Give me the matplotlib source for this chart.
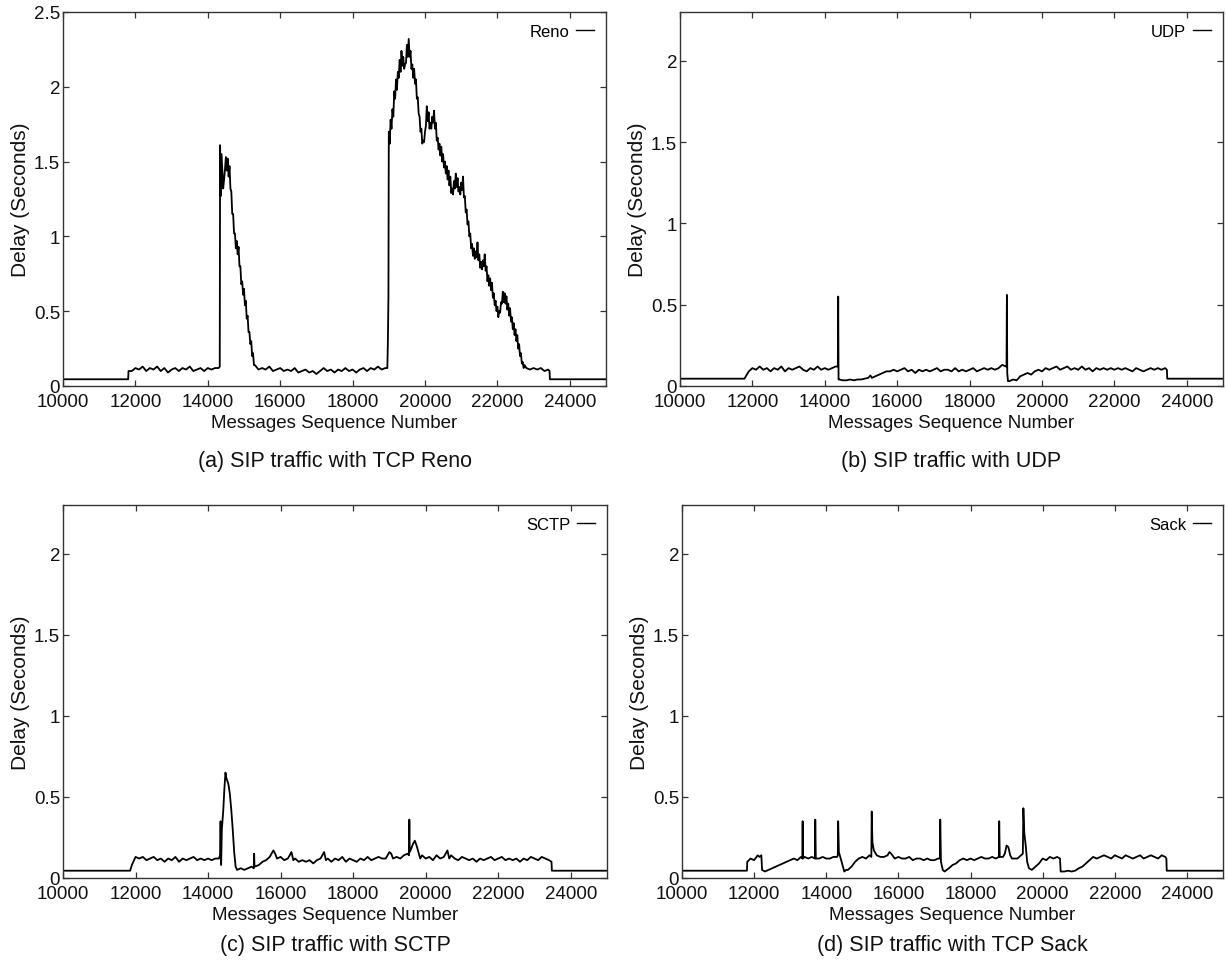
import matplotlib
matplotlib.use("Agg")
import matplotlib.pyplot as plt

plt.rcParams['font.family'] = ['Liberation Sans', 'DejaVu Sans']

# ---------------- data ----------------
xticks = [10000, 12000, 14000, 16000, 18000, 20000, 22000, 24000]
xtick_labels = ["10000", "12000", "14000", "16000", "18000", "20000", "22000", "24000"]
yticks_a = [0, 0.5, 1, 1.5, 2, 2.5]
yticks_other = [0, 0.5, 1, 1.5, 2]
ytick_labels_a = ["0", "0.5", "1", "1.5", "2", "2.5"]
ytick_labels_other = ["0", "0.5", "1", "1.5", "2"]

series_names = ["Reno", "UDP", "SCTP", "Sack"]
captions = ["(a) SIP traffic with TCP Reno", "(b) SIP traffic with UDP",
            "(c) SIP traffic with SCTP", "(d) SIP traffic with TCP Sack"]

reno_points = [
    (10000, 0.045), (11800, 0.045), (11810, 0.10),
    (11900, 0.10), (12000, 0.12), (12100, 0.11), (12200, 0.13), (12300, 0.10), (12400, 0.12),
    (12500, 0.11), (12600, 0.13), (12700, 0.10), (12800, 0.12), (12900, 0.09), (13000, 0.11),
    (13100, 0.12), (13200, 0.10), (13300, 0.12), (13400, 0.11), (13500, 0.13), (13600, 0.10),
    (13700, 0.11), (13800, 0.12), (13900, 0.10), (14000, 0.12), (14100, 0.11), (14200, 0.12),
    (14300, 0.12), (14330, 0.13), (14340, 1.61), (14360, 1.27), (14380, 1.55), (14400, 1.45),
    (14450, 1.38), (14500, 1.53), (14550, 1.52), (14600, 1.47), (14650, 1.30), (14700, 1.15),
    (14750, 1.02), (14800, 0.97), (14850, 0.93), (14900, 0.80), (14950, 0.70), (15000, 0.65),
    (15050, 0.57), (15100, 0.47), (15150, 0.36), (15200, 0.30), (15250, 0.22), (15300, 0.14),
    (15400, 0.11), (15500, 0.12), (15600, 0.11), (15700, 0.13), (15800, 0.10), (15900, 0.11),
    (16000, 0.12), (16100, 0.10), (16200, 0.11), (16300, 0.10), (16400, 0.12), (16500, 0.09),
    (16600, 0.10), (16700, 0.11), (16800, 0.09), (16900, 0.10), (17000, 0.08), (17100, 0.10),
    (17200, 0.12), (17300, 0.10), (17400, 0.11), (17500, 0.09), (17600, 0.11), (17700, 0.10),
    (17800, 0.12), (17900, 0.10), (18000, 0.11), (18100, 0.09), (18200, 0.11), (18300, 0.12),
    (18400, 0.10), (18500, 0.12), (18600, 0.11), (18700, 0.13), (18800, 0.11), (18900, 0.12),
    (18960, 0.12), (18975, 0.30), (18990, 0.60), (19000, 1.70), (19050, 1.78), (19100, 1.85),
    (19150, 1.97), (19200, 2.05), (19250, 2.10), (19300, 2.18), (19350, 2.24), (19400, 2.20),
    (19450, 2.15), (19500, 2.28), (19550, 2.32), (19600, 2.24), (19650, 2.15), (19700, 2.12),
    (19750, 2.05), (19800, 1.93), (19850, 1.80), (19900, 1.72), (19950, 1.64), (20000, 1.70),
    (20050, 1.87), (20100, 1.83), (20150, 1.76), (20200, 1.80), (20250, 1.84), (20300, 1.76),
    (20350, 1.66), (20400, 1.62), (20450, 1.60), (20500, 1.55), (20550, 1.50), (20600, 1.47),
    (20650, 1.44), (20700, 1.40), (20750, 1.32), (20800, 1.37), (20850, 1.42), (20900, 1.39),
    (20950, 1.33), (21000, 1.36), (21050, 1.40), (21100, 1.27), (21150, 1.18), (21200, 1.10),
    (21250, 1.02), (21300, 0.95), (21350, 0.92), (21400, 0.90), (21450, 0.96), (21500, 0.88),
    (21550, 0.83), (21600, 0.84), (21650, 0.88), (21700, 0.80), (21750, 0.74), (21800, 0.72),
    (21850, 0.69), (21900, 0.62), (21950, 0.57), (22000, 0.53), (22050, 0.50), (22100, 0.56),
    (22150, 0.63), (22200, 0.62), (22250, 0.60), (22300, 0.55), (22350, 0.52), (22400, 0.46),
    (22450, 0.42), (22500, 0.38), (22550, 0.34), (22600, 0.28), (22650, 0.22), (22700, 0.16),
    (22750, 0.14), (22800, 0.12), (22900, 0.11), (23000, 0.12), (23100, 0.11), (23200, 0.12),
    (23300, 0.10), (23400, 0.11), (23440, 0.10), (23450, 0.045), (25000, 0.045),
]

# lower edge of the thick noisy band seen in the Reno trace
reno_band_points = [
    (14425, 1.32), (14475, 1.45), (14525, 1.44), (14575, 1.40), (14625, 1.32), (14675, 1.15),
    (14725, 1.02), (14775, 0.92), (14825, 0.88), (14875, 0.80), (14925, 0.68), (14975, 0.61),
    (15025, 0.54), (15075, 0.45), (15125, 0.36), (15175, 0.28), (15225, 0.20), (15275, 0.14),
    (19025, 1.62), (19075, 1.72), (19125, 1.80), (19175, 1.92), (19225, 1.98), (19275, 2.06),
    (19325, 2.10), (19375, 2.14), (19425, 2.12), (19475, 2.16), (19525, 2.20), (19575, 2.20),
    (19625, 2.12), (19675, 2.06), (19725, 2.02), (19775, 1.92), (19825, 1.82), (19875, 1.70),
    (19925, 1.62), (19975, 1.63), (20025, 1.74), (20075, 1.77), (20125, 1.72), (20175, 1.72),
    (20225, 1.76), (20275, 1.72), (20325, 1.64), (20375, 1.58), (20425, 1.54), (20475, 1.50),
    (20525, 1.46), (20575, 1.42), (20625, 1.38), (20675, 1.34), (20725, 1.29), (20775, 1.28),
    (20825, 1.32), (20875, 1.33), (20925, 1.30), (20975, 1.28), (21025, 1.31), (21075, 1.26),
    (21125, 1.16), (21175, 1.08), (21225, 1.00), (21275, 0.92), (21325, 0.87), (21375, 0.85),
    (21425, 0.86), (21475, 0.84), (21525, 0.79), (21575, 0.78), (21625, 0.80), (21675, 0.77),
    (21725, 0.70), (21775, 0.67), (21825, 0.64), (21875, 0.59), (21925, 0.54), (21975, 0.50),
    (22025, 0.46), (22075, 0.49), (22125, 0.55), (22175, 0.56), (22225, 0.55), (22275, 0.51),
    (22325, 0.47), (22375, 0.43), (22425, 0.38), (22475, 0.34), (22525, 0.30), (22575, 0.25),
    (22625, 0.20), (22675, 0.15), (22725, 0.12),
]

udp_points = [
    (10000, 0.045), (11780, 0.045), (11900, 0.09), (12000, 0.11), (12100, 0.10), (12200, 0.12),
    (12300, 0.10), (12400, 0.11), (12500, 0.09), (12600, 0.11), (12700, 0.10), (12800, 0.12),
    (12900, 0.09), (13000, 0.11), (13100, 0.10), (13200, 0.11), (13300, 0.12), (13400, 0.10),
    (13500, 0.09), (13600, 0.11), (13700, 0.10), (13800, 0.12), (13900, 0.10), (14000, 0.11),
    (14100, 0.10), (14200, 0.11), (14300, 0.12), (14360, 0.12), (14370, 0.55), (14380, 0.04),
    (14400, 0.04), (14500, 0.035), (14600, 0.035), (14700, 0.04), (14800, 0.035), (14900, 0.04),
    (15000, 0.04), (15100, 0.045), (15200, 0.05), (15260, 0.065), (15300, 0.05), (15400, 0.06),
    (15500, 0.07), (15600, 0.08), (15700, 0.09), (15800, 0.09), (15900, 0.10), (16000, 0.09),
    (16100, 0.10), (16200, 0.11), (16300, 0.09), (16400, 0.10), (16500, 0.08), (16600, 0.10),
    (16700, 0.09), (16800, 0.10), (16900, 0.09), (17000, 0.10), (17100, 0.11), (17200, 0.09),
    (17300, 0.10), (17400, 0.10), (17500, 0.09), (17600, 0.11), (17700, 0.09), (17800, 0.10),
    (17900, 0.09), (18000, 0.10), (18100, 0.11), (18200, 0.09), (18300, 0.10), (18400, 0.11),
    (18500, 0.10), (18600, 0.11), (18700, 0.10), (18800, 0.11), (18900, 0.13), (19000, 0.12),
    (19020, 0.12), (19030, 0.56), (19040, 0.08), (19060, 0.03), (19100, 0.03), (19200, 0.04),
    (19300, 0.035), (19400, 0.06), (19500, 0.07), (19600, 0.08), (19700, 0.07), (19800, 0.09),
    (19900, 0.10), (20000, 0.09), (20100, 0.11), (20200, 0.10), (20300, 0.11), (20400, 0.12),
    (20500, 0.10), (20600, 0.11), (20700, 0.12), (20800, 0.10), (20900, 0.11), (21000, 0.10),
    (21100, 0.12), (21200, 0.10), (21300, 0.11), (21400, 0.09), (21500, 0.11), (21600, 0.10),
    (21700, 0.11), (21800, 0.10), (21900, 0.11), (22000, 0.10), (22100, 0.11), (22200, 0.10),
    (22300, 0.11), (22400, 0.10), (22500, 0.09), (22600, 0.11), (22700, 0.10), (22800, 0.09),
    (22900, 0.10), (23000, 0.11), (23100, 0.10), (23200, 0.11), (23300, 0.10), (23400, 0.11),
    (23450, 0.10), (23460, 0.045), (25000, 0.045),
]

sctp_points = [
    (10000, 0.045), (11850, 0.045), (11900, 0.08), (12000, 0.13), (12100, 0.12), (12200, 0.13),
    (12300, 0.11), (12400, 0.12), (12500, 0.13), (12600, 0.11), (12700, 0.12), (12800, 0.10),
    (12900, 0.12), (13000, 0.11), (13100, 0.13), (13200, 0.10), (13300, 0.12), (13400, 0.11),
    (13500, 0.12), (13600, 0.13), (13700, 0.11), (13800, 0.12), (13900, 0.11), (14000, 0.12),
    (14100, 0.11), (14200, 0.12), (14300, 0.12), (14330, 0.14), (14345, 0.35), (14360, 0.08),
    (14380, 0.30), (14420, 0.42), (14450, 0.55), (14480, 0.65), (14500, 0.62), (14530, 0.60),
    (14560, 0.58), (14600, 0.52), (14640, 0.42), (14680, 0.30), (14720, 0.16), (14760, 0.07),
    (14800, 0.05), (14900, 0.06), (15000, 0.05), (15100, 0.06), (15200, 0.07), (15260, 0.06),
    (15270, 0.15), (15280, 0.07), (15400, 0.08), (15500, 0.10), (15600, 0.11), (15700, 0.13),
    (15800, 0.17), (15850, 0.15), (15900, 0.12), (16000, 0.13), (16100, 0.11), (16200, 0.12),
    (16300, 0.16), (16350, 0.11), (16400, 0.12), (16500, 0.10), (16600, 0.11), (16700, 0.10),
    (16800, 0.11), (16900, 0.09), (17000, 0.11), (17100, 0.12), (17200, 0.16), (17250, 0.11),
    (17300, 0.12), (17400, 0.10), (17500, 0.12), (17600, 0.11), (17700, 0.13), (17800, 0.10),
    (17900, 0.12), (18000, 0.11), (18100, 0.10), (18200, 0.12), (18300, 0.11), (18400, 0.13),
    (18500, 0.11), (18600, 0.12), (18700, 0.13), (18800, 0.12), (18900, 0.12), (19000, 0.16),
    (19050, 0.15), (19100, 0.12), (19200, 0.13), (19300, 0.12), (19400, 0.14), (19500, 0.15),
    (19540, 0.14), (19550, 0.36), (19560, 0.16), (19600, 0.18), (19650, 0.21), (19700, 0.23),
    (19750, 0.20), (19800, 0.16), (19850, 0.12), (19900, 0.14), (20000, 0.12), (20100, 0.13),
    (20200, 0.11), (20300, 0.14), (20400, 0.12), (20500, 0.13), (20600, 0.17), (20650, 0.12),
    (20700, 0.14), (20800, 0.12), (20900, 0.11), (21000, 0.13), (21100, 0.12), (21200, 0.11),
    (21300, 0.12), (21400, 0.10), (21500, 0.12), (21600, 0.11), (21700, 0.12), (21800, 0.13),
    (21900, 0.11), (22000, 0.12), (22100, 0.13), (22200, 0.11), (22300, 0.12), (22400, 0.11),
    (22500, 0.12), (22600, 0.10), (22700, 0.12), (22800, 0.11), (22900, 0.13), (23000, 0.12),
    (23100, 0.11), (23200, 0.13), (23300, 0.12), (23400, 0.11), (23470, 0.10), (23480, 0.045),
    (25000, 0.045),
]

sack_points = [
    (10000, 0.045), (11800, 0.045), (11810, 0.10), (11900, 0.12), (12000, 0.11), (12100, 0.14),
    (12150, 0.13), (12200, 0.14), (12220, 0.05), (12300, 0.04), (12400, 0.05), (12500, 0.06),
    (12600, 0.07), (12700, 0.08), (12800, 0.09), (12900, 0.10), (13000, 0.11), (13100, 0.12),
    (13200, 0.11), (13300, 0.13), (13335, 0.12), (13345, 0.35), (13355, 0.12), (13400, 0.13),
    (13500, 0.12), (13600, 0.13), (13685, 0.12), (13695, 0.36), (13710, 0.12), (13800, 0.12),
    (13900, 0.13), (14000, 0.12), (14100, 0.12), (14200, 0.13), (14300, 0.13), (14320, 0.14),
    (14330, 0.35), (14350, 0.16), (14400, 0.12), (14450, 0.08), (14500, 0.04), (14550, 0.05),
    (14600, 0.05), (14700, 0.07), (14800, 0.10), (14900, 0.12), (15000, 0.13), (15100, 0.12),
    (15200, 0.14), (15250, 0.13), (15260, 0.41), (15280, 0.22), (15320, 0.17), (15400, 0.14),
    (15500, 0.13), (15600, 0.13), (15700, 0.14), (15750, 0.16), (15800, 0.15), (15900, 0.12),
    (16000, 0.13), (16100, 0.12), (16200, 0.12), (16300, 0.13), (16400, 0.11), (16500, 0.12),
    (16600, 0.12), (16700, 0.11), (16800, 0.12), (16900, 0.11), (17000, 0.11), (17100, 0.12),
    (17150, 0.12), (17160, 0.36), (17180, 0.10), (17230, 0.05), (17280, 0.04), (17400, 0.06),
    (17500, 0.08), (17600, 0.09), (17700, 0.11), (17800, 0.12), (17900, 0.11), (18000, 0.12),
    (18100, 0.11), (18200, 0.12), (18300, 0.13), (18400, 0.12), (18500, 0.12), (18600, 0.13),
    (18700, 0.12), (18785, 0.13), (18795, 0.35), (18810, 0.13), (18900, 0.13), (18950, 0.15),
    (19000, 0.20), (19050, 0.19), (19100, 0.14), (19150, 0.12), (19200, 0.12), (19300, 0.12),
    (19400, 0.14), (19450, 0.15), (19465, 0.43), (19490, 0.28), (19530, 0.20), (19570, 0.10),
    (19620, 0.06), (19700, 0.05), (19800, 0.07), (19900, 0.09), (20000, 0.12), (20100, 0.11),
    (20200, 0.13), (20300, 0.12), (20400, 0.13), (20480, 0.12), (20500, 0.04), (20600, 0.04),
    (20700, 0.045), (20800, 0.04), (20900, 0.045), (21000, 0.06), (21100, 0.07), (21200, 0.09),
    (21300, 0.11), (21400, 0.13), (21500, 0.12), (21600, 0.13), (21700, 0.14), (21800, 0.13),
    (21900, 0.12), (22000, 0.14), (22100, 0.13), (22200, 0.12), (22300, 0.14), (22400, 0.13),
    (22500, 0.12), (22600, 0.13), (22700, 0.14), (22800, 0.12), (22900, 0.13), (23000, 0.14),
    (23100, 0.13), (23200, 0.12), (23300, 0.14), (23400, 0.13), (23430, 0.12), (23440, 0.045),
    (25000, 0.045),
]

all_points = [sorted(reno_points + reno_band_points), udp_points, sctp_points, sack_points]
y_max = [2.5, 2.3, 2.3, 2.3]

# ---------------- figure ----------------
W, H = 1226, 962
fig = plt.figure(figsize=(W / 100, H / 100), dpi=100)

# axes boxes in pixels: left, top, right, bottom
boxes = [(63, 13, 606, 387), (680, 13, 1223, 387),
         (63, 506, 607, 879), (682, 506, 1223, 879)]
caption_y = [462, 462, 946, 946]

spine_col = "#333333"
for i, (l, t, r, b) in enumerate(boxes):
    ax = fig.add_axes([l / W, 1 - b / H, (r - l) / W, (b - t) / H])
    pts = all_points[i]
    xs = [p[0] for p in pts]
    ys = [p[1] for p in pts]
    ax.plot(xs, ys, color="black", lw=1.3, label=series_names[i])
    ax.set_xlim(10000, 25000)
    ax.set_ylim(0, y_max[i])
    ax.set_xticks(xticks)
    ax.set_xticklabels(xtick_labels)
    if i == 0:
        ax.set_yticks(yticks_a)
        ax.set_yticklabels(ytick_labels_a)
    else:
        ax.set_yticks(yticks_other)
        ax.set_yticklabels(ytick_labels_other)
    ax.tick_params(direction="in", top=True, right=True, length=4, width=0.9,
                   labelsize=13.5, colors=spine_col, labelcolor="#111111")
    ax.tick_params(axis="x", pad=5)
    ax.tick_params(axis="y", pad=2)
    for s in ax.spines.values():
        s.set_color(spine_col)
        s.set_linewidth(1.0)
    ax.set_xlabel("Messages Sequence Number", fontsize=13.5, color="#111111", labelpad=3)
    ax.set_ylabel("Delay (Seconds)", fontsize=15, color="#111111", labelpad=3)
    ax.legend(loc="upper right", frameon=False, markerfirst=False,
              handlelength=1.1, handletextpad=0.4, fontsize=12,
              borderaxespad=0.3, handleheight=0.5)
    for lg_line in ax.get_legend().get_lines():
        lg_line.set_linewidth(1.0)
    cx = ((l + r) / 2) / W
    cy = 1 - caption_y[i] / H
    fig.text(cx, cy, captions[i], ha="center", va="center", fontsize=15.5, color="#111111")

fig.savefig("out.png", dpi=100, facecolor="white")
